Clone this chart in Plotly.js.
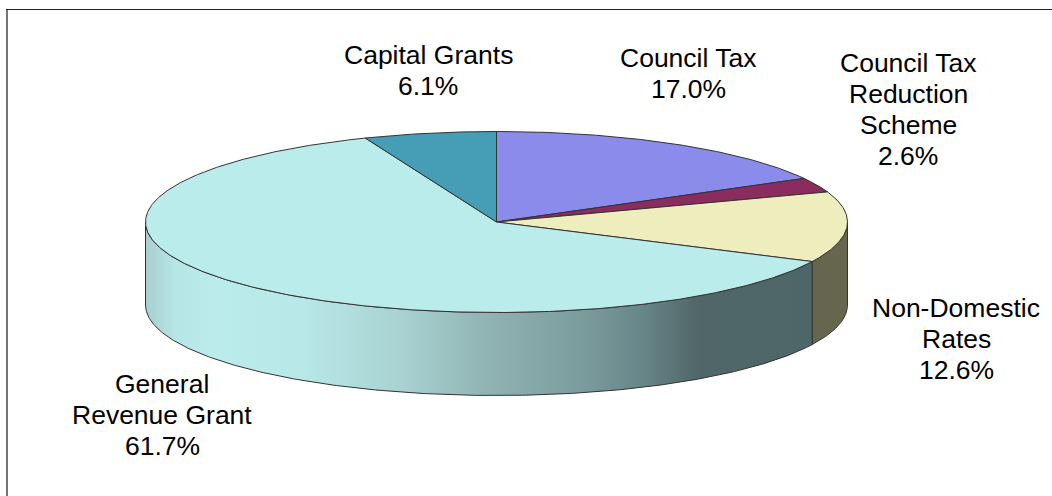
<!DOCTYPE html>
<html>
<head>
<meta charset="utf-8">
<script src="https://cdn.plot.ly/plotly-3.0.1.min.js"></script>
<style>html,body{margin:0;padding:0;background:#fff;overflow:hidden}#chart{width:1052px;height:496px}</style>
</head>
<body>
<div id="chart"></div>
<script>
// Chart data
const categories = ["Council Tax", "Council Tax Reduction Scheme", "Non-Domestic Rates", "General Revenue Grant", "Capital Grants"];
const shares = [17.0, 2.6, 12.6, 61.7, 6.1];
const labelLines = [["Council Tax"], ["Council Tax", "Reduction", "Scheme"], ["Non-Domestic", "Rates"], ["General", "Revenue Grant"], ["Capital Grants"]];

// Styling
const topColors = ["#8B8BEB", "#8B2C5F", "#EDEDBD", "#BBECEC", "#459DB6"];
const wallColors = ["#55557F", "#551B3A", "#66664F", "#BBECEC", "#2A6070"];
const generalWallStops = [[145, "#A8CFCF"], [175, "#B6E6E6"], [215, "#BBECEC"], [300, "#B8E8E8"], [400, "#A9D2D2"], [490, "#8FB2B2"], [570, "#7E9F9F"], [640, "#69878A"], [700, "#506668"], [812, "#4F6668"]];
const labelAnchors = [[688, 58], [908, 63], [956, 308], [162, 384], [428, 55]];

// Geometry (pixels of the 1052x496 page)
const W = 1052, H = 496;
const cx = 496.5, cy = 222, r = 351;
const tilt = 90.5 / r, depth = 83 / r;
const lineGap = 31;
const edge = "#333333";

const rad = d => d * Math.PI / 180;
const px = d => Math.sin(rad(d));
const py = d => tilt * Math.cos(rad(d));
function arc(a, b) {
  const n = Math.max(2, Math.ceil(Math.abs(b - a) * 2));
  const out = [];
  for (let i = 0; i <= n; i++) out.push(a + (b - a) * i / n);
  return out;
}

// Angular extent of every slice, clockwise from the top
let running = 0;
const total = shares.reduce((s, v) => s + v, 0);
const spans = shares.map(v => {
  const a = running / total * 360;
  running += v;
  return [a, running / total * 360];
});

const traces = [];

// Side walls: only the front half of the disc is visible
spans.forEach(([a, b], i) => {
  const from = Math.max(a, 90), to = Math.min(b, 270);
  if (to <= from) return;
  const angles = arc(from, to);
  const x = angles.map(px).concat(angles.slice().reverse().map(px));
  x.push(x[0]);
  const y = angles.map(py).concat(angles.slice().reverse().map(d => py(d) - depth));
  y.push(y[0]);
  const t = {
    type: "scatter", mode: "lines", x, y, fill: "toself", hoverinfo: "skip", showlegend: false,
    name: categories[i] + " wall",
    line: { color: edge, width: 1 }, fillcolor: wallColors[i]
  };
  if (i === 3) {
    const x0 = generalWallStops[0][0], x1 = generalWallStops[generalWallStops.length - 1][0];
    t.fillgradient = {
      type: "horizontal",
      colorscale: generalWallStops.map(([p, c]) => [(p - x0) / (x1 - x0), c])
    };
  }
  traces.push(t);
});

// Top faces
spans.forEach(([a, b], i) => {
  const angles = arc(a, b);
  const x = [0].concat(angles.map(px), [0]);
  const y = [0].concat(angles.map(py), [0]);
  traces.push({
    type: "scatter", mode: "lines", x, y, fill: "toself", hoverinfo: "skip", showlegend: false,
    name: categories[i], line: { color: edge, width: 1 }, fillcolor: topColors[i]
  });
});

// Labels: one annotation per line so the line spacing can match
const annotations = [];
categories.forEach((c, i) => {
  const lines = labelLines[i].concat([shares[i].toFixed(1) + "%"]);
  lines.forEach((text, k) => {
    annotations.push({
      text, xref: "paper", yref: "paper",
      x: labelAnchors[i][0] / W, y: 1 - (labelAnchors[i][1] + k * lineGap) / H,
      xanchor: "center", yanchor: "middle", showarrow: false,
      font: { family: "Liberation Sans, Arial, sans-serif", size: 26.5, color: "#000" }
    });
  });
});

const layout = {
  width: W, height: H,
  margin: { l: 0, r: 0, t: 0, b: 0, pad: 0 },
  paper_bgcolor: "#fff", plot_bgcolor: "#fff",
  showlegend: false,
  xaxis: { visible: false, range: [-cx / r, (W - cx) / r], fixedrange: true },
  yaxis: { visible: false, range: [(cy - H) / r, cy / r], fixedrange: true },
  annotations,
  shapes: [
    { type: "line", xref: "paper", yref: "paper", x0: 7 / W, x1: 7 / W, y0: 0, y1: 1 - 9 / H, line: { color: "#757575", width: 2 } },
    { type: "line", xref: "paper", yref: "paper", x0: 6 / W, x1: 1, y0: 1 - 9.5 / H, y1: 1 - 9.5 / H, line: { color: "#222", width: 1 } }
  ]
};

Plotly.newPlot("chart", traces, layout, { displayModeBar: false, staticPlot: true });
</script>
</body>
</html>
